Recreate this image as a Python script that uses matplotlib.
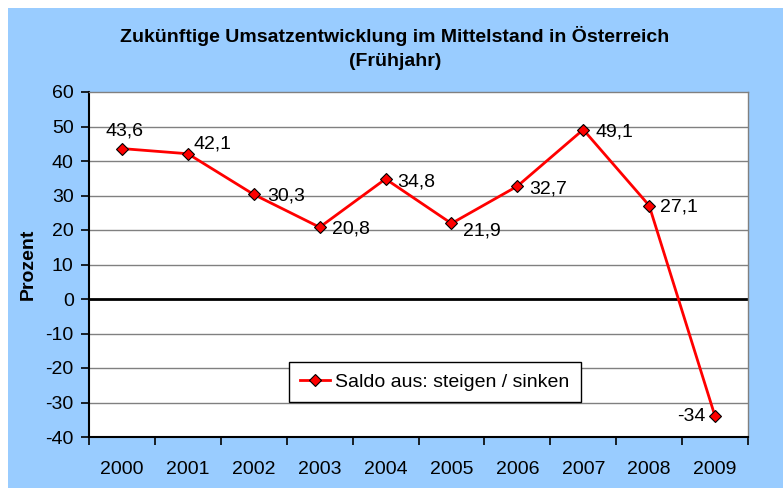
import matplotlib
matplotlib.use("Agg")
import matplotlib.pyplot as plt
from matplotlib.patches import Rectangle

plt.rcParams['font.family'] = ['Liberation Sans', 'DejaVu Sans']

years = ["2000", "2001", "2002", "2003", "2004", "2005", "2006", "2007", "2008", "2009"]
values = [43.6, 42.1, 30.3, 20.8, 34.8, 21.9, 32.7, 49.1, 27.1, -34]
labels = ["43,6", "42,1", "30,3", "20,8", "34,8", "21,9", "32,7", "49,1", "27,1", "-34"]
yticks = list(range(-40, 61, 10))

W, H = 783, 488
fs = 14
fig = plt.figure(figsize=(W / 100, H / 100), dpi=100, facecolor="white")
fig.patches.append(Rectangle((8 / W, 0), 1 - 8 / W, 1 - 8 / H, transform=fig.transFigure,
                             facecolor="#99CCFF", edgecolor="none", zorder=-10))

left, right, top, bottom = 89, 748, 92, 437
ax = fig.add_axes([left / W, 1 - bottom / H, (right - left) / W, (bottom - top) / H])
ax.set_facecolor("white")

x = list(range(len(years)))
ax.set_xlim(-0.5, len(years) - 0.5)
ax.set_ylim(-40, 60)

for t in yticks:
    if t == 0:
        ax.axhline(t, color="black", lw=2, zorder=1)
    elif t not in (-40, 60):
        ax.axhline(t, color="#808080", lw=1, zorder=1)

ax.plot(x, values, color="#FF0000", lw=2, marker="D", markersize=6.5,
        markerfacecolor="#FF0000", markeredgecolor="black", markeredgewidth=0.8,
        label="Saldo aus: steigen / sinken", zorder=3)

# (dx, dy) in pixels, dy positive = up
offsets = [(3, 18, "center"), (6, 10, "left"), (13, -2, "left"), (12, -2, "left"),
           (12, -3, "left"), (12, -8, "left"), (12, -3, "left"), (12, -2, "left"),
           (11, -1, "left"), (-10, 0, "right")]
for xi, v, lab, (dx, dy, ha) in zip(x, values, labels, offsets):
    ax.annotate(lab, (xi, v), xytext=(dx, dy), textcoords="offset pixels",
                ha=ha, va="center", fontsize=fs, color="black", zorder=4)

ax.set_yticks(yticks)
ax.set_yticklabels([str(t) for t in yticks], fontsize=fs)
ax.set_xticks([i - 0.5 for i in range(len(years) + 1)])
ax.set_xticklabels([])
ax.set_xticks(x, minor=True)
ax.set_xticklabels(years, minor=True, fontsize=fs)
ax.tick_params(axis="x", which="major", direction="out", length=6, width=1.2, color="black")
ax.tick_params(axis="x", which="minor", length=0, pad=17)
ax.tick_params(axis="y", direction="out", length=6, width=1.2, color="black", pad=5)

for s in ("left", "bottom"):
    ax.spines[s].set_color("black")
    ax.spines[s].set_linewidth(1.5)
for s in ("top", "right"):
    ax.spines[s].set_color("#808080")
    ax.spines[s].set_linewidth(1)

ax.set_ylabel("Prozent", fontsize=fs, fontweight="bold", labelpad=6)

fig.text(395 / W, 1 - 36 / H,
         "Zukünftige Umsatzentwicklung im Mittelstand in Österreich",
         ha="center", va="center", fontsize=14, fontweight="bold")
fig.text(395 / W, 1 - 62 / H, "(Frühjahr)",
         ha="center", va="center", fontsize=14, fontweight="bold")

leg = ax.legend(loc="center", bbox_to_anchor=((435 - left) / (right - left), (bottom - 382) / (bottom - top)),
                fontsize=fs, frameon=True, fancybox=False, framealpha=1,
                edgecolor="black", handlelength=1.5, handletextpad=0.3, borderpad=0.6)
leg.get_frame().set_linewidth(1)

fig.savefig("out.png", dpi=100, facecolor=fig.get_facecolor())
